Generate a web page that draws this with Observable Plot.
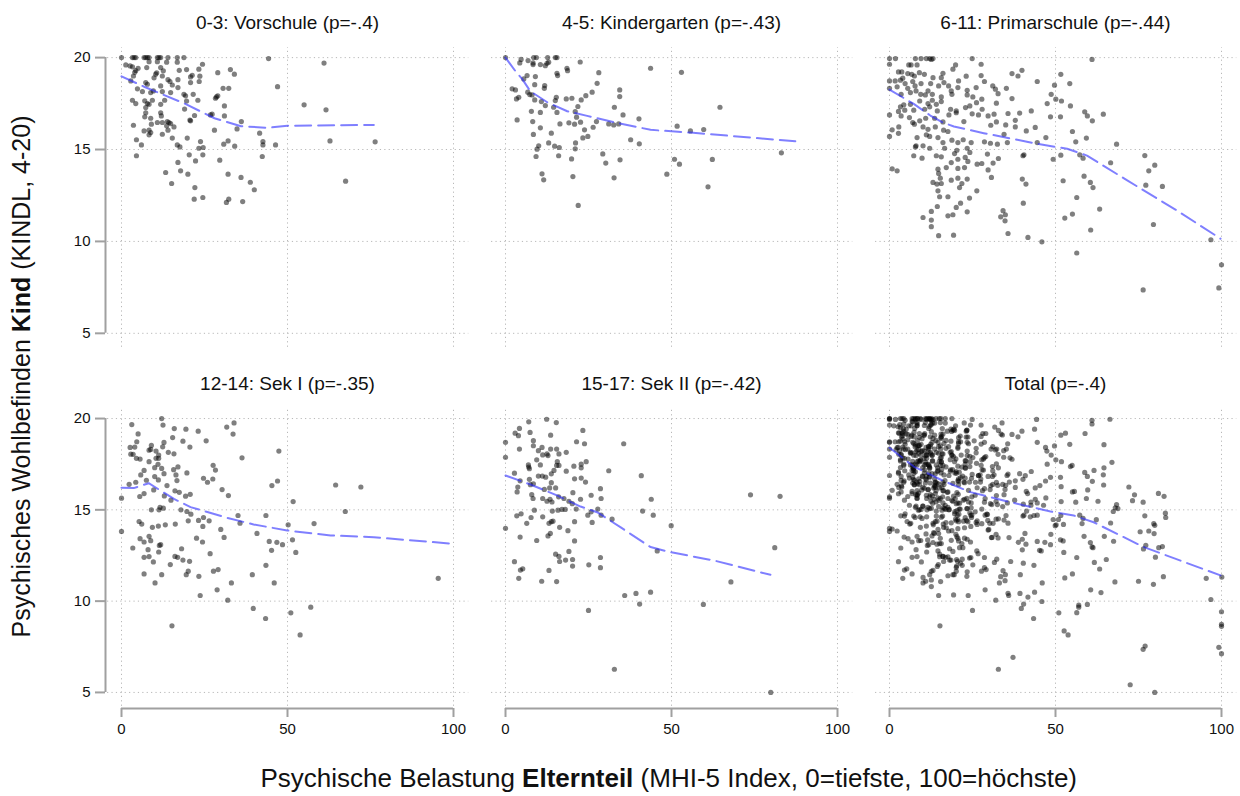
<!DOCTYPE html>
<html><head><meta charset="utf-8">
<script src="https://cdn.jsdelivr.net/npm/d3@7"></script>
<script src="https://cdn.jsdelivr.net/npm/@observablehq/plot@0.6"></script>
<style>
body{margin:0;background:#fff;font-family:"Liberation Sans",Arial,sans-serif;}
#chart{position:relative;width:1240px;height:796px;overflow:hidden;}
.panel{position:absolute;}
.panel svg{max-width:none !important;}
.panel svg [aria-label^="x-axis"] line,.panel svg [aria-label^="y-axis"] line,
.panel svg [aria-label="x-axis tick"] path,.panel svg [aria-label="y-axis tick"] path{stroke:#a0a0a0;stroke-width:2px;}
.panel svg [aria-label^="x-axis"] .domain,.panel svg [aria-label^="y-axis"] .domain{display:none;}
.panel svg text{fill:#111;}
.atitle{position:absolute;font-size:25px;color:#111;white-space:nowrap;}
</style></head>
<body><div id="chart"></div>
<script>
const xTicks = [0, 50, 100];
const yTicks = [5, 10, 15, 20];
const titles = ["0-3: Vorschule (p=-.4)", "4-5: Kindergarten (p=-.43)", "6-11: Primarschule (p=-.44)",
                "12-14: Sek I (p=-.35)", "15-17: Sek II (p=-.42)", "Total (p=-.4)"];

const vorschule = [[0,20],[3.3,20],[3.8,20],[4.3,20],[6.8,20],[7.3,20],[7.8,20],[8.3,20],[10.8,20],[11.3,20],[11.8,20],[14,20],[16.8,20],[18.8,20],[44.3,19.95],[61,19.7],
[1.3,19.6],[2.6,19.55],[3.3,19.5],[4.3,19.3],[4,19.2],[5,19.42],[8.3,19.78],[7.6,19.46],[10.8,19.78],[13.6,19.75],[11.8,19.46],[16.8,19.75],[24.4,19.64],[17.4,19.31],[19.6,19.35],[23.3,19.37],[29,19.18],[32.8,19.35],[34,19.1],
[3.6,19],[10.6,19.17],[10.3,19.1],[12.6,19.28],[12.3,19],[9.8,18.9],[14,18.8],[17,18.8],[21.3,19.04],[20.8,18.95],[23.6,18.99],[23.4,18.7],
[2.8,18.73],[4.8,18.3],[7.3,18.64],[7.8,18.55],[11.8,18.46],[14.6,18.7],[15.3,18.51],[6.3,18.15],[8.8,18.1],[9.6,18.19],[12.3,18.15],[14.8,18.1],[18.8,18],[19.3,17.92],[20.8,18.64],[21.6,18],[17,18.37],[30.6,18.33],[32.3,18.33],[47,18.42],
[3.3,17.68],[4.3,17.5],[7,17.65],[7.8,17.5],[9.3,17.68],[11.8,17.46],[13,17.68],[19.6,17.64],[23,17.68],[28.3,17.79],[28.6,17.86],[29,17.92],[31,17.37],[55,17.43],[61.6,17.16],
[7.3,17.28],[8.3,17.46],[19,17.2],[22,16.85],[11.8,17],[12,16.83],[7.3,17],[7,16.78],[8.8,16.7],[10.8,16.47],[12.3,16.47],[9,16.38],[13.8,16.52],[14.3,16.47],[14.8,16.41],[13.6,16.29],[15.8,16.23],[14,16.05],[12.3,15.83],[15.3,15.62],[6.8,16.01],[8.3,16.05],[8.8,15.92],[8.3,15.8],[3.6,16.32],[4.5,15.53],[6,15.25],[4.5,14.66],
[20.8,16.56],[20.6,16.6],[26.8,16.88],[27.3,16.92],[31,16.83],[28,16.05],[19.8,15.62],[16.8,15.25],[17.6,15.14],[23.8,15.43],[23.3,15.07],[24.6,15.11],[30.8,15.29],[32.1,15.47],[34.1,15.18],[36.1,16.52],[34.8,16.12],[41.6,15.89],[42.6,15.43],[42.6,15.25],[46.4,15.25],[42.4,14.62],
[20.4,14.71],[24.5,14.71],[22.3,14.38],[17,14.3],[29.6,14.42],[13.3,13.75],[17.8,13.84],[20,13.66],[15.1,13.15],[22.1,12.93],[32.1,13.66],[36,13.48],[38.8,13.22],[40,12.81],[21.9,12.3],[24.5,12.39],[31.6,12.12],[32.3,12.3],[36.5,12.17],[62.8,15.47],[76.4,15.42],[67.5,13.28]];

const kindergarten = [[0,20],[4.7,19.9],[4.3,19.71],[6.8,19.84],[8.3,19.71],[8.5,20],[9.3,20],[8.3,19.62],[10.5,19.62],[12,19.56],[12.7,20],[13,19.75],[12.5,19.69],[15,20],[15.5,20],[22.5,19.76],[18.5,19.42],[18.7,19.29],[15.5,19.15],[15.7,19.02],
[5.5,18.84],[6.5,19.02],[9,18.97],[8.8,18.53],[11.8,18.48],[11.7,18.33],[2,18.3],[3,18.24],[3.3,17.75],[4,17.84],[6.7,18.12],[7.3,17.99],[8,17.97],[8.8,17.7],[10.8,17.61],[12,17.39],[14.5,17.3],[15.3,17.84],[15,17.66],[18.3,17.75],[20,17.79],[22.8,17.7],[24.2,17.93],[26.1,18.12],[27.6,18.6],[28.1,19.18],[34.4,18.24],[34.4,17.88],[43.7,19.42],[53,19.2],
[7.8,17.08],[10.5,17.02],[15.5,17.02],[21,17.06],[21.8,17.34],[21.4,16.76],[32.8,17.3],[35.4,16.88],[40.2,16.67],[3.5,16.61],[8.2,16.52],[16.4,16.39],[19.1,16.45],[20.8,16.38],[22.6,16.49],[27.4,16.52],[31.1,16.39],[32.6,16.34],[34.1,16.39],[26.4,16.21],[23.8,16.07],[10.5,16.18],[13.8,15.89],[8.4,15.82],[24.8,15.71],[23.3,15.63],[37.7,15.53],[40.3,15.31],[51.7,16.27],[55.7,16.01],[59.7,16.09],[64.6,17.3],
[13,15.36],[14.8,15.18],[16.2,15.11],[10,15.2],[9.5,15.02],[21.1,15.36],[21,15.04],[9.2,14.62],[16,14.66],[19.9,14.49],[29.3,14.76],[30.2,14.26],[34.5,14.44],[50.9,14.47],[52.4,14.2],[62.3,14.46],[83.1,14.82],[11,13.68],[11.5,13.35],[20.3,13.53],[32.7,13.46],[48.6,13.66],[61,12.97],[21.9,11.96]];

const primarschule = [[0,19.95],[1.8,19.95],[7.8,19.95],[9.5,19.95],[11.1,19.95],[12.1,19.95],[12.6,19.9],[13.1,19.95],[24.9,19.95],[61,19.9],
[0,19.64],[5.8,19.6],[6.5,19.6],[8.3,19.6],[19.9,19.6],[27.6,19.64],[2.7,19.22],[3.7,19.22],[5.5,19.13],[6.7,19.09],[7.5,19],[9,19.18],[10.5,19.09],[16.1,19.15],[19.1,19.37],[23.1,18.99],[27.6,19.02],[36.9,19.13],[39.9,19.31],[38.7,19],[51.6,19.09],
[0,18.73],[1.7,18.73],[3.3,18.77],[4,18.88],[4.7,18.59],[7,18.7],[7.7,18.46],[9.5,18.59],[12.4,18.59],[13.1,18.91],[15.6,18.91],[16.4,18.64],[17.8,18.46],[20.8,18.73],[28.6,18.7],[31.1,18.46],[44.5,18.7],[49.7,18.5],[54.3,18.59],
[0,18.33],[2.3,18.41],[5.5,18.33],[8,18.19],[9.4,18],[11.6,18.19],[12.9,18],[14.8,18.46],[18.6,18.19],[20.6,18.37],[23.4,18.22],[26.1,18.37],[31.9,18.28],[32.7,18.04],[35.2,18.33],[48.7,18],
[3.5,18],[6.3,18.1],[10.8,17.97],[15.6,17.86],[18.8,18],[23.4,17.97],[25.1,17.86],[27.8,17.74],[36.9,17.77],[50.1,17.74],[51.8,17.64],[9.1,17.64],[11.6,17.5],[12.9,17.68],[14.1,17.46],[15.6,17.61],[6.3,17.46],[4.3,17.43],[3.3,17.32],
[2.7,17.07],[4.6,17.14],[7.3,17.14],[10.6,17.19],[12.1,17.32],[14.4,17.1],[18.4,17.19],[20.1,17.1],[22.9,17.28],[24.2,17.37],[26.2,17.55],[27.9,17.19],[32.2,17.52],[42.7,17.1],[47.5,17.5],[54.5,17.37],[58.8,17.05],[64.4,16.92],
[0,16.88],[3.5,16.83],[6,16.74],[9.1,16.56],[10.9,16.7],[13.6,16.7],[16.1,16.5],[17.9,16.88],[20.1,17],[24.9,16.94],[26.8,16.88],[29.7,16.83],[31.5,16.92],[35.7,16.96],[39.2,16.98],[48.5,16.78],[51.5,16.78],[59.6,16.83],[61.1,16.56],
[7,16.47],[7.5,16.38],[10.1,16.23],[11.6,16.1],[13.8,16.23],[17.6,15.98],[16.3,16.05],[22.4,16.52],[30.5,16.32],[32.2,16.5],[35,16.34],[37.9,16.59],[37.9,16.23],[41.2,16.01],[43.9,16.2],[55.1,15.98],[0.8,16.07],[2.8,16.23],
[0,15.71],[2.7,15.88],[8.3,15.65],[11.1,15.8],[12.1,15.71],[14.6,15.65],[18.8,15.51],[20.6,15.38],[22.2,15.53],[24.6,15.38],[28.6,15.42],[30.4,15.34],[32.5,15.29],[34.5,15.83],[35.5,15.38],[44.5,15.38],[47.1,15.65],[56.1,15.42],[59.3,15.62],[68.4,15.29],
[7.8,15.14],[8,15.2],[10.1,15.2],[12.1,15.07],[16.1,15.38],[16.6,15.07],[20.3,14.96],[23.4,15.07],[24.2,14.84],[7.3,14.66],[9.8,14.53],[14.1,14.66],[15.6,14.6],[19.6,14.78],[20.6,14.47],[22.8,14.57],[29.5,14.75],[32.8,14.51],[40.5,14.71],[40.2,14.66],[49.3,14.47],[51.6,14.69],[57.3,14.71],[58.3,14.53],[76.9,14.67],
[0.8,13.95],[2.3,13.84],[14.6,13.93],[17.1,14.02],[18.6,14.29],[20.6,13.97],[22.6,14.02],[23.6,14.35],[26.4,14.2],[27.8,14.24],[29.7,13.89],[31.2,14.26],[66.6,14.28],[78.1,13.84],[79.9,14.15],
[14.8,13.7],[15.3,13.44],[13.1,13.21],[14.3,13.12],[15.6,13.15],[18.6,13.33],[20.6,13.44],[21.8,13.15],[21.1,12.93],[23.4,13.39],[26.3,12.75],[30.7,13.48],[40,13.39],[41.1,13.12],[52.3,13.3],[58.6,13.55],[60.5,13.21],[61.3,12.93],[77.2,13.06],[82.2,12.99],
[14.6,12.75],[15.1,12.43],[17.6,12.43],[24.1,12.36],[56.4,12.39],[14.4,11.9],[12.6,11.63],[21.4,12.08],[20.1,11.85],[23.4,11.61],[40.3,12.08],[63.3,11.76],[10.1,11.3],[12.6,11.16],[17.6,11.39],[19.1,11.45],[34.2,11.67],[34.9,11.45],[33.5,11.34],[34.8,11.12],[52.8,11.27],[55.1,11.49],[79.5,10.92],
[12.6,10.8],[14.8,10.31],[19.3,10.34],[35.7,10.43],[41.7,10.22],[45.9,9.98],[60.6,10.62],[96.8,10.09],[56.4,9.37],[100,8.73],[76.4,7.36],[99.2,7.47]];

const sek1 = [[3.1,19.67],[12.1,20],[12.5,19.64],[15.9,19.45],[19.4,19.42],[23.1,19.31],[31.7,19.53],[33.9,19.76],[33.6,19.15],[5,19.16],[15.4,18.96],[18.5,18.76],[20.6,18.44],[25.5,18.78],
[2.6,18.42],[4,18.44],[4.6,18.73],[9,18.53],[8.3,18.27],[8.8,18.31],[10.4,18.22],[11.2,18],[12.4,18.45],[12.8,18.69],[14.1,18.15],[15.8,18.07],[2.8,18.05],[3.5,18.04],[4.5,17.82],[5.6,17.78],[8.3,17.64],[10.4,17.82],[11.2,17.82],[11,17.49],[12.1,17.27],[10,17.31],[6.8,17.16],[5.8,16.91],[7.5,16.62],[10,16.82],[11.1,16.64],[12.8,16.98],[15.7,17.2],[17,17.35],[16.4,16.91],[16.7,16.6],[19.7,17.02],[27.6,17.44],[28.3,17.18],[27.5,16.69],[24.7,16.73],[25.9,16.51],[36.3,17.85],[47.4,18.22],
[2.3,16.4],[4.3,16.51],[6.8,15.89],[5.5,15.73],[9.7,16.09],[13.7,16.33],[12.9,15.76],[14.9,15.53],[16.1,16.04],[17.4,15.96],[19.3,15.75],[20.7,15.85],[17.9,15],[9,15],[11.6,15.13],[12.6,15.09],[11.3,15],[19.7,14.91],[20.9,14.76],[30.3,16.11],[32.2,15.78],[45.3,16.33],[47,16.58],[51.7,15.45],[0,15.64],
[5.3,14.36],[6.1,14.22],[9.3,14.04],[11.1,14.11],[13.2,14.18],[16.2,14.22],[20.1,14.4],[23.2,14.42],[24.5,14.09],[24.7,14.58],[26.4,14.4],[35.1,14.69],[35.7,14.27],[43.5,14.69],[50.2,14.18],[58,14.25],[67.4,14.91],[72.1,16.25],[64.5,16.36],
[0,13.82],[5.6,13.42],[8.3,13.55],[8.8,13.31],[6.8,13.24],[3.4,12.91],[8,12.82],[11.4,13.05],[11.8,13.09],[11.2,12.69],[6.8,12.4],[8.3,12.44],[9.6,12.15],[16.1,12.45],[16.9,12.4],[18.1,12.87],[18.5,12.25],[20.5,12.18],[22.6,13.45],[24.4,13.24],[26.7,12.6],[29.9,13.93],[30.9,13.49],[40.8,13.71],[44.5,13.27],[45.2,12.78],[46.8,13.22],[48.5,13.09],[51.5,13.36],[52.5,12.67],
[6.8,11.49],[12.1,11.45],[10.1,11],[14.7,12],[19.5,11.45],[20.1,11.64],[23.3,11.36],[27.7,11.64],[29.1,11.73],[33.1,11],[39.4,11.45],[43.5,11.96],[46,11],[23.7,10.31],[28.8,10.62],[32,10.05],[39.7,9.6],[43.4,9.05],[51,9.36],[57,9.67],[53.8,8.15],[15.2,8.65],[95.4,11.25]];

const sek2 = [[12.4,19.96],[7,19.82],[15.3,19.78],[4.2,19.46],[2.9,19.2],[3.9,19.06],[7.4,19.24],[13.6,19.09],[23.3,19.35],[0,18.7],[4.2,18.33],[8.4,18.79],[8.4,18.51],[9.9,18.24],[11,18.42],[12.8,17.97],[13.6,18.33],[15.4,18.33],[16.1,18.06],[18.3,18.15],[21.4,18.73],[23.8,18.62],[35.6,18.62],
[0,17.88],[6.9,17.46],[7,17.34],[10.5,17.46],[9.4,17.74],[11.2,18.01],[12.5,18.06],[15.6,17.64],[16.1,17.43],[15.4,17.43],[20.6,17.39],[22.8,17.5],[22.8,17.3],[24.3,17.64],[2.7,17.01],[7.2,17.25],[9.9,16.85],[11.1,16.85],[12.1,16.79],[13.8,16.97],[14.6,17.16],[18.3,17.12],[20.8,16.7],[22.8,16.74],[24.1,16.52],[31.1,17.14],[40.9,16.87],
[3.7,16.25],[3.5,15.98],[4.4,16.59],[7.2,16.67],[7.5,16.38],[8.4,16.43],[11.7,16.12],[13.3,16.2],[13.8,16.49],[15.1,16.2],[7.9,15.83],[8.3,15.62],[11.2,15.62],[12.5,15.47],[13.4,15.58],[14,15.43],[16,15.71],[17.6,15.62],[19.1,15.47],[20.1,15.34],[20.3,15.94],[22.6,15.58],[25.8,15.8],[28.6,16.16],[28.8,15.62],[43.9,15.58],
[8.7,14.98],[14.1,14.93],[15.8,14.98],[17,15.02],[18,15.02],[21.3,15.04],[24.8,14.71],[25.8,14.89],[27.8,15.04],[28.8,14.71],[32.1,14.49],[41.3,14.93],[44.5,14.71],[3.4,14.67],[4.7,14.78],[7.7,14.58],[11.2,14.62],[13.1,14.26],[13.8,14.35],[14.3,14.38],[20.8,14.35],[26.1,14.31],[49.9,14.13],
[0,13.99],[6.4,14.26],[16.3,14.04],[18.8,13.86],[13.5,13.71],[12.8,13.57],[4.4,13.51],[9.4,13.32],[20.8,13.3],[15.1,12.57],[16.1,12.45],[16.3,12.17],[19.1,12.72],[18.1,12.25],[20.2,12.28],[20.2,11.92],[28.6,12.39],[25.1,11.99],[28.6,11.83],[2.7,12.16],[4.5,11.7],[5.2,11.77],[13.1,11.68],[4,11.25],[10.9,11.09],[15.4,11.07],
[45.7,12.75],[81.1,12.93],[73.8,15.82],[82.7,15.74],[67.9,11.05],[35.9,10.31],[39.3,10.42],[43.7,10.49],[40.4,9.84],[25,9.49],[59.6,9.82],[32.8,6.27],[79.9,5]];

const totalExtra = [[100.1,11.32],[100,9.42],[100,8.62],[100,7.12],[77,7.54],[72.5,5.42],[37.2,6.92],[52.6,8.37],[66.4,19.96],[58.9,19.18],[64.6,18.57],[67,17.6],[81,15.9],[83.2,14.58],[82.5,11.34],[75,11.09],[73.2,15.5],[68,15.11],[68.8,15.07],[79.6,14.24],[75.5,13.8],[79.7,13.7],[76.5,12.86],[80.1,12.41],[64.7,13.55],[65.3,12.28],[61.7,12.12],[63.7,10.47],[57,9.78]];

const loessVorschule = [[0,18.98],[7,18.4],[19,17.5],[28,16.7],[36,16.27],[44,16.18],[50,16.29],[76,16.34]];
const loessKindergarten = [[0,20],[3,19.26],[5,18.84],[7.5,18.17],[12.6,17.57],[18.6,17.08],[24.6,16.83],[32.6,16.49],[43.7,16.07],[55.7,15.92],[87.3,15.45]];
const loessPrimarschule = [[0,18.26],[7.3,17.48],[12.3,16.85],[15.9,16.48],[19.4,16.25],[28.4,15.89],[44.5,15.31],[53.5,15.04],[59.5,14.67],[71.6,13.32],[86.6,11.68],[99.7,10.15]];
const loessSek1 = [[0,16.21],[3.7,16.19],[8.2,16.46],[15.8,15.6],[20.8,15.15],[31.8,14.56],[39.8,14.2],[49.9,13.87],[63,13.6],[76,13.5],[100,13.14]];
const loessSek2 = [[0,16.88],[7.5,16.39],[15.5,15.79],[22.6,15.18],[27.6,14.87],[34.6,14.05],[43.7,12.96],[49.7,12.68],[62.7,12.23],[79.8,11.44]];
const loessTotal = [[0,18.4],[7.3,17.37],[15.9,16.61],[24.4,15.97],[36.4,15.42],[48.5,14.91],[55.5,14.69],[61.5,14.32],[76.6,12.96],[99.7,11.41]];

const total = [...vorschule, ...kindergarten, ...primarschule, ...sek1, ...sek2, ...totalExtra];
const panels = [
  {pts: vorschule, loess: loessVorschule},
  {pts: kindergarten, loess: loessKindergarten},
  {pts: primarschule, loess: loessPrimarschule},
  {pts: sek1, loess: loessSek1},
  {pts: sek2, loess: loessSek2},
  {pts: total, loess: loessTotal}
];

// layout
const xDomain = [-4.82, 104.82];
const yDomain = [4.12, 20.55];
const gridX = [-4.2, 104.6];
const gridY = [4.24, 20.55];
const colLeft = [105, 489, 873];
const rowTop = [47, 408];
const rowH = [302, 300];
const frameW = 364;
const mL = 110, mR = 2, mT = 47, mB = 60;

const chart = document.getElementById("chart");
panels.forEach((p, i) => {
  const col = i % 3, row = Math.floor(i / 3);
  const showY = col === 0, showX = row === 1;
  const marks = [
    Plot.ruleY(yTicks, {y: d => d, x1: gridX[0], x2: gridX[1], stroke: "#b8b8b8", strokeWidth: 1, strokeDasharray: "1.2,3.2"}),
    Plot.ruleX(xTicks, {x: d => d, y1: gridY[0], y2: gridY[1], stroke: "#b8b8b8", strokeWidth: 1, strokeDasharray: "1.2,3.2"}),
    Plot.dot(p.pts, {x: d => d[0], y: d => d[1], r: 2.6, fill: "black", fillOpacity: 0.5, stroke: "none"}),
    Plot.line(p.loess, {x: d => d[0], y: d => d[1], stroke: "#2a2aff", strokeOpacity: 0.6, strokeWidth: 2, strokeDasharray: "16,7"}),
    Plot.text([titles[i]], {frameAnchor: "top", lineAnchor: "middle", dy: -25, fontSize: 19, fill: "#111"})
  ];
  if (showY) marks.push(Plot.ruleX([xDomain[0]], {x: d => d, y1: yTicks[0], y2: yTicks[yTicks.length - 1], stroke: "#a0a0a0", strokeWidth: 2}));
  if (showX) marks.push(Plot.ruleY([yDomain[0]], {y: d => d, x1: xTicks[0], x2: xTicks[xTicks.length - 1], stroke: "#a0a0a0", strokeWidth: 2}));
  const W = frameW + mL + mR, H = rowH[row] + mT + mB;
  const svg = Plot.plot({
    width: W,
    height: H,
    marginLeft: mL, marginRight: mR, marginTop: mT, marginBottom: mB,
    x: {domain: xDomain, axis: showX ? "bottom" : null, ticks: xTicks, tickSize: 9, tickPadding: 6, tickFormat: d => String(d), label: null},
    y: {domain: yDomain, axis: showY ? "left" : null, ticks: yTicks, tickSize: 10, tickPadding: 5, tickFormat: d => String(d), label: null},
    style: {background: "transparent", overflow: "visible", fontFamily: "'Liberation Sans', Arial, sans-serif", fontSize: "15px", color: "#111", maxWidth: "none"},
    marks
  });
  const wrap = document.createElement("div");
  wrap.className = "panel";
  wrap.style.left = (colLeft[col] - mL) + "px";
  wrap.style.top = (rowTop[row] - mT) + "px";
  wrap.style.width = W + "px";
  wrap.style.height = H + "px";
  wrap.appendChild(svg);
  chart.appendChild(wrap);
});

const yt = document.createElement("div");
yt.className = "atitle";
yt.innerHTML = "Psychisches Wohlbefinden <b>Kind</b> (KINDL, 4-20)";
chart.appendChild(yt);
const ytw = yt.offsetWidth, yth = yt.offsetHeight;
yt.style.left = (22 - ytw / 2) + "px";
yt.style.top = (376 - yth / 2) + "px";
yt.style.transform = "rotate(-90deg)";

const xt = document.createElement("div");
xt.className = "atitle";
xt.style.fontSize = "26px";
xt.innerHTML = "Psychische Belastung <b>Elternteil</b> (MHI-5 Index, 0=tiefste, 100=höchste)";
chart.appendChild(xt);
xt.style.left = (669 - xt.offsetWidth / 2) + "px";
xt.style.top = (778 - xt.offsetHeight / 2) + "px";
</script>
</body></html>
